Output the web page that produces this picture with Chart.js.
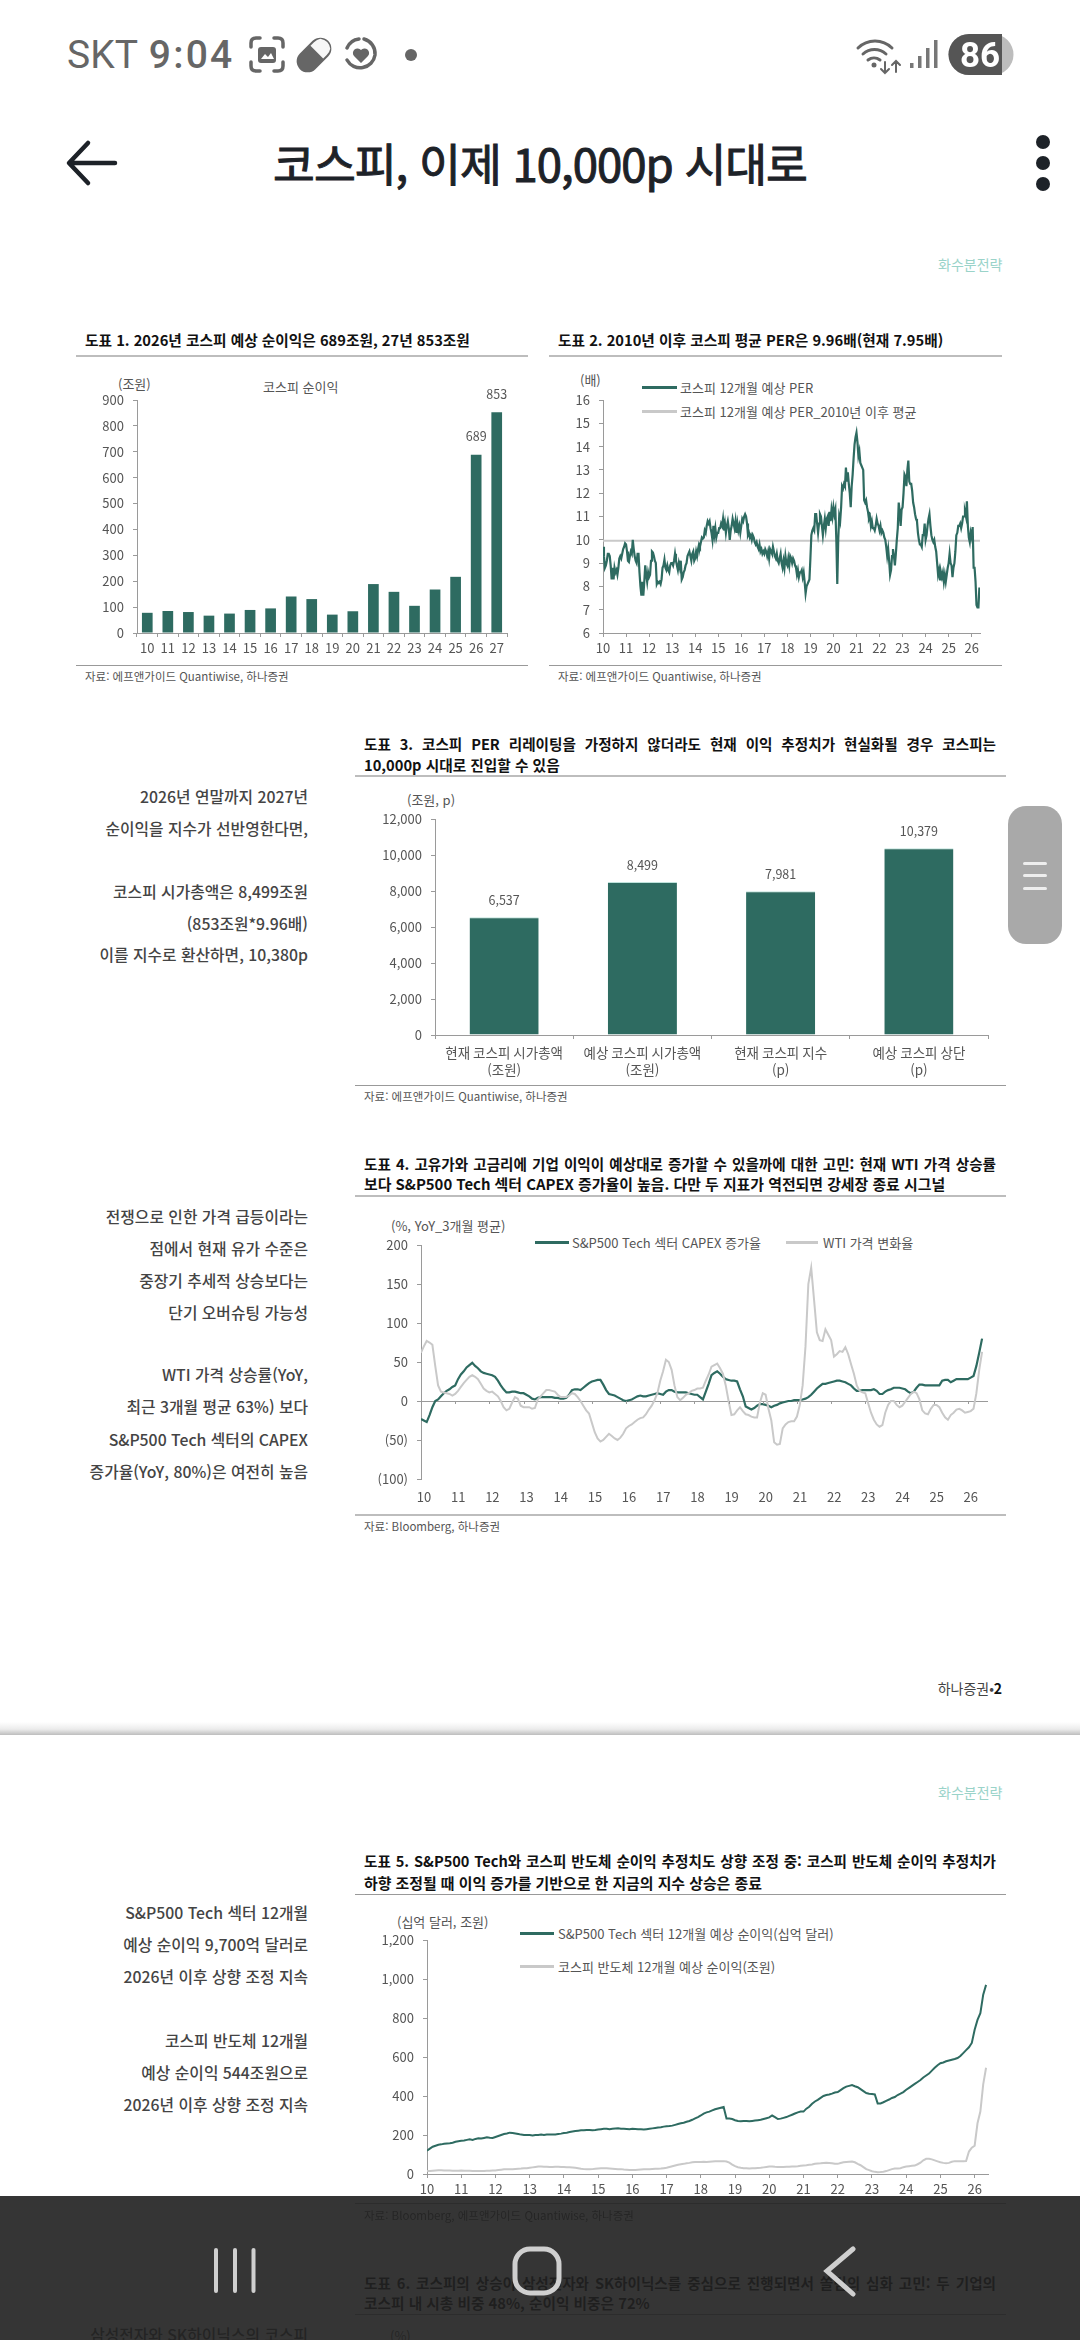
<!DOCTYPE html>
<html lang="ko"><head><meta charset="utf-8">
<script src="https://cdn.jsdelivr.net/npm/chart.js@4"></script>
<style>
html,body{margin:0;padding:0;background:#fff;}
body{position:relative;width:1080px;height:2340px;overflow:hidden;font-family:"Noto Sans CJK KR","Noto Sans",sans-serif;}
.t{position:absolute;white-space:nowrap;line-height:1;transform:translateY(-50%);}
.ttl{font-weight:700;font-size:14.7px;color:#111;left:364px;}
.j{width:632px;text-align:justify;text-align-last:justify;white-space:normal;font-size:14.6px;}
.src{font-size:11.5px;color:#555;left:364px;}
.side{font-size:15.8px;color:#444;right:772px;font-weight:500;}
.lbl{font-size:13px;color:#555;}
.rule{position:absolute;height:2px;background:#bdbdbd;}
.rule.s{height:1px;background:#999;}
canvas{position:absolute;display:block;}
.lg{position:absolute;height:2.5px;}
</style></head><body>
<script>
/* ---------- data ---------- */
const netYears=['10','11','12','13','14','15','16','17','18','19','20','21','22','23','24','25','26','27'];
const netProfit=[78,85,81,67,75,89,95,141,131,71,84,189,159,105,168,217,689,853];

const perAverage=9.96;
const perSeries=[ /* half-monthly from 2010 */
9.7,9.3,8.8,8.9,9.1,9.4,9.4,9.3,8.9,8.3,8.8,8.3,8.8,8.6,8.7,8.5,8.8,9.2,9.3,9.2,9.4,9.6,9.7,9.85,
9.8,9.5,9.1,9.05,9.3,9.5,9.4,10.0,9.6,9.3,9.1,9.0,9.4,9.4,8.6,8.0,7.6,8.2,7.6,8.2,8.9,8.5,8.2,8.6,
8.4,8.5,9.1,9.5,9.45,9.3,9.1,9.0,8.1,8.2,8.15,8.2,8.1,8.3,8.8,8.9,9.15,8.8,8.7,8.9,8.7,8.6,8.9,9.0,
9.0,8.9,9.1,9.4,9.1,8.9,8.7,9.0,8.8,9.1,8.3,8.4,8.6,8.7,8.9,9.0,9.3,9.4,9.5,9.3,9.1,9.4,9.5,9.1,
9.2,9.5,9.3,9.6,9.8,9.7,9.9,10.1,10.05,10.1,10.4,10.3,10.6,10.8,10.7,10.8,10.5,10.3,10.0,10.6,10.2,10.5,10.1,10.3,
10.3,10.5,10.5,10.7,10.6,10.9,10.4,10.7,10.3,10.6,10.8,10.5,10.0,10.4,10.6,10.9,10.7,10.5,10.8,10.3,10.7,10.4,10.6,10.3,
10.6,10.9,10.8,11.0,11.1,11.0,10.7,10.2,10.3,10.1,10.2,10.0,10.2,10.1,9.9,9.8,9.9,9.7,9.6,9.8,9.5,9.6,9.4,9.5,
9.4,9.6,9.5,9.3,9.5,9.2,9.6,9.5,9.4,9.7,9.5,9.3,9.2,9.4,9.1,9.0,9.2,9.4,9.0,8.8,9.1,8.8,9.3,9.0,
8.9,9.2,8.9,9.3,9.2,9.0,9.2,9.1,8.9,8.8,8.5,8.7,8.4,8.6,8.6,8.7,8.4,8.6,8.2,7.7,8.0,8.1,8.2,8.3,
9.2,10.2,10.4,10.5,10.4,11.1,11.1,10.7,10.3,10.7,11.1,11.0,10.6,10.2,10.6,10.9,10.5,10.9,11.0,10.6,11.2,10.8,11.3,11.0,
11.4,11.1,11.3,10.0,8.1,10.0,11.0,10.8,11.4,12.3,12.2,12.4,12.3,13.1,12.5,12.9,12.4,12.0,11.4,12.3,12.8,13.5,14.1,14.4,
14.6,14.2,13.6,13.8,13.3,13.2,13.1,13.0,11.7,11.6,11.7,11.4,11.2,10.9,11.0,10.6,10.8,10.5,10.5,10.4,10.6,10.9,10.7,10.6,
10.4,10.6,10.3,10.4,10.3,10.1,10.0,9.7,9.3,9.6,9.1,8.5,8.7,9.3,9.6,9.3,8.9,9.4,10.0,10.5,11.6,11.2,10.6,11.3,
11.4,12.0,12.8,12.7,12.3,13.0,13.4,12.5,12.4,12.4,12.1,11.6,11.4,11.1,10.9,10.8,10.3,10.0,9.8,9.8,9.7,10.2,10.2,10.7,
10.0,10.2,10.6,10.9,11.1,10.6,10.2,10.0,9.9,10.0,9.7,9.5,9.0,8.5,8.7,8.3,8.6,8.4,8.6,8.2,8.5,8.2,8.5,8.8,
9.0,9.4,9.0,8.9,8.4,8.8,9.0,9.5,10.2,10.3,10.6,10.6,10.7,10.5,10.7,11.0,11.0,11.2,11.0,11.65,10.6,10.1,9.9,10.3,
10.1,10.55,8.8,8.8,8.2,7.2,7.1,7.1,7.95];

const capCategories=[['현재 코스피 시가총액','(조원)'],['예상 코스피 시가총액','(조원)'],['현재 코스피 지수','(p)'],['예상 코스피 상단','(p)']];
const capValues=[6537,8499,7981,10379];

const capexGrowth=[ /* monthly from 2010 */
-23,-25,-27,-18,-8,0,2,6,10,13,15,18,
20,28,34,38,43,46,49,45,42,38,36,35,
34,33,31,26,20,15,11,11,12,12,11,10,
10,8,6,3,2,4,5,5,5,5,5,4,
4,3,3,4,8,14,15,15,14,17,20,23,
25,26,27,27,21,14,9,8,7,5,3,1,
0,1,2,4,6,7,6,6,7,8,9,10,
9,8,12,14,14,12,11,11,11,11,10,9,
8,8,5,2,12,22,33,36,38,35,31,28,
27,26,26,25,15,6,-7,-9,-11,-9,-6,-4,
-4,-5,-6,-8,-6,-5,-3,-2,-1,0,0,1,
1,1,2,3,5,8,12,16,19,22,22,23,
24,25,26,26,25,24,22,20,16,13,13,14,
14,14,14,15,13,9,9,12,14,15,17,17,
17,16,15,12,10,12,17,21,21,20,20,20,
20,20,20,26,27,27,24,26,28,28,28,28,
28,30,32,45,62,80];
const wtiChange=[
62,70,77,75,72,45,20,12,11,10,9,7,
9,13,18,23,27,31,33,31,28,22,16,13,
11,12,9,6,0,-8,-12,-10,-2,5,3,-6,
-8,-8,-8,-10,-9,2,6,10,14,14,13,12,
8,5,5,5,7,10,9,5,0,-6,-12,-16,
-28,-40,-48,-52,-50,-46,-42,-45,-48,-50,-47,-42,
-35,-32,-30,-27,-24,-22,-21,-17,-11,-6,1,10,
26,38,53,50,40,20,5,1,4,8,10,13,
14,16,16,17,26,34,44,46,48,42,35,20,
0,-18,-17,-12,-8,-13,-17,-18,-20,-21,-21,-2,
10,8,-10,-25,-53,-56,-55,-35,-30,-27,-26,-26,
-20,-5,20,70,150,171,130,88,78,77,92,85,
78,57,60,64,63,69,60,47,35,20,13,11,
10,-3,-15,-24,-30,-33,-31,-15,-5,0,0,-5,
-8,-6,-1,4,9,12,10,2,-12,-16,-17,-10,
-5,-5,-8,-15,-21,-24,-18,-15,-11,-10,-12,-15,
-14,-13,-10,10,40,63];

const techProfit=[ /* monthly from 2010 */
120,130,140,145,150,152,155,157,158,160,165,168,
170,172,175,178,175,180,183,182,185,188,186,185,
190,195,200,205,208,212,210,208,205,202,200,200,
200,198,200,200,202,200,202,203,202,203,205,207,
210,212,215,218,220,222,224,224,226,226,225,226,
228,230,232,232,230,232,233,234,232,232,231,230,
232,231,230,229,228,230,232,234,236,238,240,243,
245,246,248,252,256,260,263,268,272,278,285,292,
300,310,316,320,326,332,336,340,344,285,285,282,
276,272,270,272,272,270,272,274,276,278,282,286,
290,300,292,282,284,288,292,298,304,310,316,320,
320,335,345,360,372,380,390,400,405,408,412,418,
420,430,440,448,452,456,450,445,435,425,415,412,
410,408,362,362,368,375,382,390,395,405,412,420,
432,442,452,462,472,482,495,505,515,530,545,558,
568,572,578,582,586,590,595,605,620,635,650,672,
740,790,825,920,970];
const semiProfit=[
15,16,17,18,19,19,18,18,18,17,17,17,
18,17,17,17,16,16,15,15,16,17,17,18,
18,20,22,24,25,25,25,26,27,28,30,30,
32,34,36,38,38,37,37,36,36,37,37,36,
36,35,34,33,32,30,27,25,24,24,25,27,
28,29,30,29,28,27,26,25,25,23,22,21,
20,21,22,23,24,25,25,26,27,27,28,30,
32,36,40,44,47,50,52,55,57,60,62,62,
62,63,62,63,64,65,65,66,66,64,58,48,
40,35,32,30,29,28,29,30,31,32,34,36,
38,39,37,36,36,36,37,37,38,39,40,42,
44,45,47,49,52,54,55,57,58,57,55,53,
52,56,60,62,63,64,60,52,45,35,25,20,
14,11,9,10,12,15,20,25,28,28,30,35,
38,40,42,43,50,58,70,78,78,75,70,65,
60,57,55,57,63,66,66,65,66,67,115,135,
145,260,320,460,545];

/* ---------- page text helpers ---------- */
function T(cls,x,y,txt,extra){const d=document.createElement('div');d.className='t '+cls;if(x!==null)d.style.left=x+'px';d.style.top=y+'px';d.textContent=txt;if(extra)Object.assign(d.style,extra);document.body.appendChild(d);return d;}
function R(x0,x1,y,thin){const d=document.createElement('div');d.className='rule'+(thin?' s':'');d.style.cssText+=`left:${x0}px;width:${x1-x0}px;top:${y}px`;document.body.appendChild(d);}
function L(x0,x1,y,c){const d=document.createElement('div');d.className='lg';d.style.cssText+=`left:${x0}px;width:${x1-x0}px;top:${y-1}px;background:${c}`;document.body.appendChild(d);}

const GREEN='#2e6b61',GREY='#c9c9c9',AX='#9a9a9a',TXT='#555';
const FONT='"Noto Sans CJK KR","Noto Sans",sans-serif';
Chart.defaults.font.family=FONT;Chart.defaults.font.size=13;Chart.defaults.color=TXT;
Chart.defaults.animation=false;Chart.defaults.responsive=false;
Chart.defaults.plugins.legend.display=false;Chart.defaults.plugins.tooltip.enabled=false;

/* value labels above bars, read from the bar elements */
const barLabels={id:'barLabels',afterDatasetsDraw(c,a,o){if(!o.on)return;const ctx=c.ctx;ctx.save();ctx.font='12.5px '+FONT;ctx.fillStyle=TXT;ctx.textAlign='center';ctx.textBaseline='middle';
 c.getDatasetMeta(0).data.forEach((b,i)=>{if(o.only&&!o.only.includes(i))return;ctx.fillText(c.data.datasets[0].data[i].toLocaleString('en-US'),b.x,b.y-o.gap);});ctx.restore();}};
/* small ticks along the zero line */
const zeroTicks={id:'zeroTicks',afterDatasetsDraw(c,a,o){if(!o.on)return;const ctx=c.ctx,x=c.scales.x,y=c.scales.y.getPixelForValue(0);ctx.save();ctx.strokeStyle=AX;ctx.lineWidth=1;ctx.beginPath();for(const t of x.ticks){const px=Math.round(x.getPixelForValue(t.value))+.5;ctx.moveTo(px,y);ctx.lineTo(px,y+3);}ctx.stroke();ctx.restore();}};
Chart.register(barLabels,zeroTicks);

function mk(L0,R0,T0,B0,cfg,xh){
 const cv=document.createElement('canvas'),yw=62,pt=30,pr=12,xh2=xh||34;
 cv.width=R0-L0+yw+pr;cv.height=B0-T0+pt+xh2;
 cv.style.left=(L0-yw)+'px';cv.style.top=(T0-pt)+'px';
 document.body.appendChild(cv);
 cfg.options=cfg.options||{};
 cfg.options.layout={padding:{top:pt,right:pr,left:0,bottom:0}};
 const s=cfg.options.scales;
 s.x.afterFit=a=>{a.height=xh2;a.paddingLeft=0;a.paddingRight=0;};
 s.y.afterFit=a=>{a.width=yw;a.paddingTop=0;a.paddingBottom=0;};
 return new Chart(cv.getContext('2d'),cfg);
}
const yScale=(min,max,step,cb)=>({min,max,ticks:{stepSize:step,callback:cb||(v=>v.toLocaleString('en-US')),padding:9,font:{size:13}},grid:{drawOnChartArea:false,tickLength:4,color:AX},border:{color:AX}});
const yearAxis=(max,extra)=>Object.assign({type:'linear',min:2010,max,ticks:{stepSize:1,includeBounds:false,autoSkip:false,maxRotation:0,callback:v=>String(v-2000),padding:3,font:{size:13}},grid:{drawOnChartArea:false,tickLength:4,color:AX},border:{color:AX}},extra||{});
const series=(arr,step)=>arr.map((v,i)=>({x:2010+i/step,y:v}));
const line=(label,data,color,w)=>({label,data,borderColor:color,borderWidth:w,pointRadius:0,tension:0,fill:false});

/* ---------- figure 1 ---------- */
T('ttl',85,340,'도표 1. 2026년 코스피 예상 순이익은 689조원, 27년 853조원',{left:'85px'});
R(76,528,355);R(76,528,665,true);
T('src',85,677,'자료: 에프앤가이드 Quantiwise, 하나증권',{left:'85px'});
T('lbl',118,383,'(조원)');
T('lbl',263,386,'코스피 순이익');
mk(137,507,400,633,{type:'bar',data:{labels:netYears,datasets:[{label:'코스피 순이익',data:netProfit,backgroundColor:GREEN,barPercentage:.52,categoryPercentage:1}]},
 options:{plugins:{barLabels:{on:true,only:[16,17],gap:18}},scales:{
  x:{ticks:{autoSkip:false,maxRotation:0,padding:3},grid:{offset:true,drawOnChartArea:false,tickLength:4,color:AX},border:{color:AX}},
  y:yScale(0,900,100)}}});

/* ---------- figure 2 ---------- */
T('ttl',558,340,'도표 2. 2010년 이후 코스피 평균 PER은 9.96배(현재 7.95배)',{left:'558px'});
R(549,1002,355);R(549,1002,665,true);
T('src',558,677,'자료: 에프앤가이드 Quantiwise, 하나증권',{left:'558px'});
T('lbl',580,379,'(배)');
L(642,677,387,GREEN);T('lbl',680,387,'코스피 12개월 예상 PER');
L(642,677,411,GREY);T('lbl',680,411,'코스피 12개월 예상 PER_2010년 이후 평균');
mk(603,980,400,633,{type:'line',data:{datasets:[
  line('코스피 12개월 예상 PER',series(perSeries,24),GREEN,2.2),
  line('코스피 12개월 예상 PER_2010년 이후 평균',[{x:2010,y:perAverage},{x:2026.36,y:perAverage}],GREY,2)]},
 options:{scales:{x:yearAxis(2026.36),y:yScale(6,16,1)}}});

/* ---------- figure 3 ---------- */
T('ttl j',null,744,'도표 3. 코스피 PER 리레이팅을 가정하지 않더라도 현재 이익 추정치가 현실화될 경우 코스피는');
T('ttl',364,765,'10,000p 시대로 진입할 수 있음');
R(355,1006,775);R(355,1006,1085,true);
T('src',364,1097,'자료: 에프앤가이드 Quantiwise, 하나증권');
T('lbl',407,799,'(조원, p)');
['2026년 연말까지 2027년','순이익을 지수가 선반영한다면,'].forEach((s,i)=>T('side',null,797+i*32,s));
['코스피 시가총액은 8,499조원','(853조원*9.96배)','이를 지수로 환산하면, 10,380p'].forEach((s,i)=>T('side',null,892+i*31.5,s));
mk(435,988,819,1035,{type:'bar',data:{labels:capCategories,datasets:[{label:'코스피',data:capValues,backgroundColor:GREEN,borderColor:'#bfe3dc',borderWidth:{top:1,left:0,right:0,bottom:0},borderSkipped:false,barPercentage:.5,categoryPercentage:1}]},
 options:{plugins:{barLabels:{on:true,gap:17}},scales:{
  x:{ticks:{autoSkip:false,maxRotation:0,padding:5,font:{size:13.5,lineHeight:1.28}},grid:{offset:true,drawOnChartArea:false,tickLength:4,color:AX},border:{color:AX}},
  y:yScale(0,12000,2000)}},},46);

/* ---------- figure 4 ---------- */
T('ttl j',null,1164,'도표 4. 고유가와 고금리에 기업 이익이 예상대로 증가할 수 있을까에 대한 고민: 현재 WTI 가격 상승률');
T('ttl',364,1184,'보다 S&P500 Tech 섹터 CAPEX 증가율이 높음. 다만 두 지표가 역전되면 강세장 종료 시그널',{fontSize:'14.9px'});
R(355,1006,1195);R(355,1006,1514);
T('src',364,1527,'자료: Bloomberg, 하나증권');
T('lbl',391,1225,'(%, YoY_3개월 평균)');
L(535,569,1242,GREEN);T('lbl',572,1242,'S&P500 Tech 섹터 CAPEX 증가율');
L(786,818,1242,GREY);T('lbl',823,1242,'WTI 가격 변화율');
['전쟁으로 인한 가격 급등이라는','점에서 현재 유가 수준은','중장기 추세적 상승보다는','단기 오버슈팅 가능성'].forEach((s,i)=>T('side',null,1217+i*32,s));
['WTI 가격 상승률(YoY,','최근 3개월 평균 63%) 보다','S&P500 Tech 섹터의 CAPEX','증가율(YoY, 80%)은 여전히 높음'].forEach((s,i)=>T('side',null,1375+i*32.3,s));
const y4=yScale(-100,200,50,v=>v<0?'('+Math.abs(v)+')':String(v));
y4.grid={drawOnChartArea:true,drawTicks:true,tickLength:4,color:c=>c.tick&&c.tick.value===0?AX:'rgba(0,0,0,0)',tickColor:AX};
const x4=yearAxis(2026.59);x4.ticks.labelOffset=3;x4.grid={display:false};x4.border={display:false};x4.ticks.padding=2;
mk(421,988,1245,1479,{type:'line',data:{datasets:[
  line('WTI 가격 변화율',series(wtiChange,12),GREY,2),
  line('S&P500 Tech 섹터 CAPEX 증가율',series(capexGrowth,12),GREEN,2.2)]},
 options:{plugins:{zeroTicks:{on:true}},scales:{x:x4,y:y4}}});

/* ---------- footer of page 2 / head of page 3 ---------- */
T('lbl',null,1688,'하나증권•',{right:'86px',color:'#444',fontSize:'14px'});
T('lbl',null,1688,'2',{right:'78px',color:'#111',fontWeight:'700',fontSize:'14px'});
T('lbl',938,264,'화수분전략',{color:'#9ad3c9',fontSize:'14px'});
T('lbl',938,1792,'화수분전략',{color:'#9ad3c9',fontSize:'14px'});
const br=document.createElement('div');br.style.cssText='position:absolute;left:0;top:1722px;width:1080px;height:13px;background:linear-gradient(#fff,#ececec 55%,#bdbdbd)';document.body.appendChild(br);

/* ---------- figure 5 ---------- */
T('ttl j',null,1861,'도표 5. S&P500 Tech와 코스피 반도체 순이익 추정치도 상향 조정 중: 코스피 반도체 순이익 추정치가');
T('ttl',364,1883,'하향 조정될 때 이익 증가를 기반으로 한 지금의 지수 상승은 종료',{fontSize:'14.9px'});
R(355,1006,1894,true);
T('lbl',397,1921,'(십억 달러, 조원)');
L(520,554,1933,GREEN);T('lbl',558,1933,'S&P500 Tech 섹터 12개월 예상 순이익(십억 달러)');
L(520,554,1966,GREY);T('lbl',558,1966,'코스피 반도체 12개월 예상 순이익(조원)');
['S&P500 Tech 섹터 12개월','예상 순이익 9,700억 달러로','2026년 이후 상향 조정 지속'].forEach((s,i)=>T('side',null,1913+i*32,s));
['코스피 반도체 12개월','예상 순이익 544조원으로','2026년 이후 상향 조정 지속'].forEach((s,i)=>T('side',null,2041+i*32,s));
mk(427,988,1940,2174,{type:'line',data:{datasets:[
  line('코스피 반도체 12개월 예상 순이익(조원)',series(semiProfit,12),GREY,2),
  line('S&P500 Tech 섹터 12개월 예상 순이익(십억 달러)',series(techProfit,12),GREEN,2)]},
 options:{scales:{x:yearAxis(2026.39),y:yScale(0,1200,200)}}});

/* ---------- figure 6 head, mostly behind the nav bar ---------- */
R(355,1006,2203,true);
T('src',364,2216,'자료: Bloomberg, 에프앤가이드 Quantiwise, 하나증권');
T('ttl j',null,2283,'도표 6. 코스피의 상승이 삼성전자와 SK하이닉스를 중심으로 진행되면서 쏠림의 심화 고민: 두 기업의');
T('ttl',364,2303,'코스피 내 시총 비중 48%, 순이익 비중은 72%');
R(355,1006,2314,true);
T('side',null,2335,'삼성전자와 SK하이닉스의 코스피');
T('lbl',390,2335,'(%)');

/* ---------- phone chrome ---------- */
document.body.insertAdjacentHTML('beforeend',`
<div style="position:absolute;left:0;top:2196px;width:1080px;height:144px;background:rgba(33,33,33,.91)"></div>
<div class="t" style="left:67px;top:55px;font:400 39px Roboto,sans-serif;color:#666;">SKT <span style="font-weight:500;letter-spacing:2.2px;margin-left:2px">9:04</span></div>
<div class="t" style="left:220px;top:163px;width:640px;font-size:45.5px;font-weight:400;-webkit-text-stroke:1px #1d2228;color:#1d2228;text-align:center;letter-spacing:-1px;">코스피, 이제 10,000p 시대로</div>
<div style="position:absolute;left:1008px;top:806px;width:54px;height:138px;border-radius:18px;background:#a9a9a9"></div>
<svg width="1080" height="2340" viewBox="0 0 1080 2340" style="position:absolute;left:0;top:0;pointer-events:none">
 <g fill="none" stroke="#666" stroke-width="3.5" stroke-linecap="round">
  <path d="M251 47v-4q0-5 5-5h4M274 38h4q5 0 5 5v4M283 62v4q0 5-5 5h-4M260 71h-4q-5 0-5-5v-4"/>
 </g>
 <rect x="258" y="47" width="18" height="16" rx="3" fill="#666"/>
 <path d="M261 59l4-5 3 3 3-4 3 6z" fill="#fff"/>
 <g transform="rotate(45 314 55)"><rect x="303" y="35" width="22" height="40" rx="11" fill="#666"/><path d="M307 39q7-5 14 0q2 3 2 7v5h-18v-5q0-4 2-7z" fill="#fff" opacity=".95"/></g>
 <path d="M347 48a15 15 0 0 1 12-9M364 39a15 15 0 0 1 11 16a15 15 0 0 1-28 5" fill="none" stroke="#666" stroke-width="3.5" stroke-linecap="round"/>
 <path d="M361 63l-7-7a4.5 4.5 0 0 1 7-6a4.5 4.5 0 0 1 7 6z" fill="#666"/>
 <circle cx="411" cy="55" r="6" fill="#666"/>
 <g fill="none" stroke="#666" stroke-width="3" stroke-linecap="round">
  <path d="M858 48a24 24 0 0 1 34 0M863 54a17 17 0 0 1 23 0M868 60a10 10 0 0 1 12 0"/>
  <path d="M885 62v11M881 69l4 4 4-4M896 72v-10M892 65l4-4 4 4" stroke-width="2"/>
 </g>
 <circle cx="874" cy="65" r="2.5" fill="#666"/>
 <g fill="#777"><rect x="910" y="63" width="3.5" height="5"/><rect x="918" y="56" width="3.5" height="12"/><rect x="926" y="48" width="3.5" height="20"/><rect x="934" y="40" width="3.5" height="28"/></g>
 <path d="M969 34h24a20.500 20.500 0 0 1 0 41h-24a20.500 20.500 0 0 1 0-41z" fill="#bdbdbd"/>
 <path d="M969 34h33v41h-33a20.500 20.500 0 0 1 0-41z" fill="#555"/>
 <g fill="none" stroke="#1d2228" stroke-width="4.5" stroke-linecap="round" stroke-linejoin="round"><path d="M115 163H70M88 143L69 163l19 20"/></g>
 <g fill="#1d2228"><circle cx="1043" cy="142" r="7"/><circle cx="1043" cy="163" r="7"/><circle cx="1043" cy="184" r="7"/></g>
 <g fill="#eee"><rect x="1023" y="862" width="24" height="3" rx="1.500"/><rect x="1023" y="874" width="24" height="3" rx="1.500"/><rect x="1023" y="887" width="24" height="3" rx="1.500"/></g>
 <g stroke="#cfcfcf" stroke-width="4" stroke-linecap="round" fill="none">
  <path d="M216 2250v41M235 2250v41M253.500 2250v41"/>
  <rect x="515" y="2249" width="44" height="44" rx="15" stroke-width="5"/>
  <path d="M853 2249l-26 22 26 23" stroke-width="5" stroke-linejoin="miter"/>
 </g>
</svg>
<div class="t" style="left:980px;top:55px;transform:translate(-50%,-50%);font:700 35px Roboto,sans-serif;color:#fff;">86</div>
`);
</script>
</body></html>
